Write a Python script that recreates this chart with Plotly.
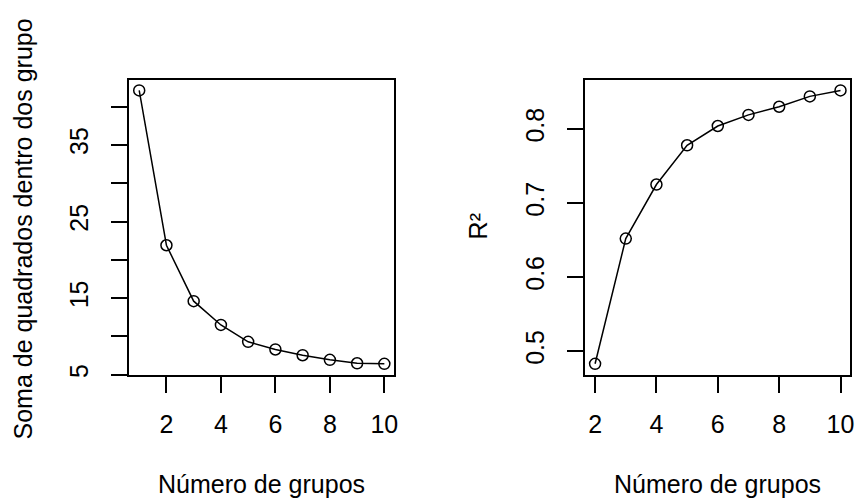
import plotly.graph_objects as go

# Data
k_left = [1, 2, 3, 4, 5, 6, 7, 8, 9, 10]
wss = [42.1, 21.9, 14.6, 11.5, 9.3, 8.3, 7.55, 6.95, 6.5, 6.43]

k_right = [2, 3, 4, 5, 6, 7, 8, 9, 10]
r2 = [0.483, 0.652, 0.725, 0.778, 0.804, 0.819, 0.830, 0.844, 0.852]

left_yticks = [5, 10, 15, 20, 25, 30, 35, 40]
left_yticktext = ["5", "", "15", "", "25", "", "35", ""]
right_yticks = [0.5, 0.6, 0.7, 0.8]
right_yticktext = ["0.5", "0.6", "0.7", "0.8"]
xticks = [2, 4, 6, 8, 10]

x_title = "Número de grupos"
y_title_left = "Soma de quadrados dentro dos grupo"
y_title_right = "R²"

FONT = "Liberation Sans, Arial, sans-serif"
FS = 25
W, H = 860, 500

def rng(vals):
    lo, hi = min(vals), max(vals)
    d = (hi - lo) * 0.04
    return [lo - d, hi + d]

fig = go.Figure()

line_style = dict(color="black", width=1.5)
marker_style = dict(symbol="circle-open", size=11, color="black", line=dict(width=1.5, color="black"))

fig.add_trace(go.Scatter(x=k_left, y=wss, mode="lines+markers", line=line_style,
                         marker=marker_style, xaxis="x", yaxis="y", showlegend=False))
fig.add_trace(go.Scatter(x=k_right, y=r2, mode="lines+markers", line=line_style,
                         marker=marker_style, xaxis="x2", yaxis="y2", showlegend=False))

ydom = [1 - 377 / H, 1 - 80 / H]

axis_common = dict(showline=True, linecolor="black", linewidth=1.5, mirror=True,
                   ticks="outside", ticklen=17, tickwidth=1.5, tickcolor="black",
                   showgrid=False, zeroline=False,
                   tickfont=dict(family=FONT, size=FS, color="black"))

fig.update_layout(
    width=W, height=H,
    margin=dict(l=0, r=0, t=0, b=0),
    paper_bgcolor="white", plot_bgcolor="white",
    font=dict(family=FONT, size=FS, color="black"),
    xaxis=dict(domain=[130 / W, 396 / W], range=rng(k_left), tickvals=xticks,
               anchor="y", ticklabelstandoff=10, **axis_common),
    yaxis=dict(domain=ydom, range=rng(wss), tickvals=left_yticks, ticktext=left_yticktext,
               tickangle=-90, anchor="x", ticklabelstandoff=13, **axis_common),
    xaxis2=dict(domain=[588 / W, 854.3 / W], range=rng(k_right), tickvals=xticks,
                anchor="y2", ticklabelstandoff=10, **axis_common),
    yaxis2=dict(domain=ydom, range=rng(r2), tickvals=right_yticks, ticktext=right_yticktext,
                tickangle=-90, anchor="x2", ticklabelstandoff=13, **axis_common),
    annotations=[
        dict(text=x_title, xref="paper", yref="paper", x=263 / W, y=1 - 487 / H,
             showarrow=False, xanchor="center", yanchor="middle",
             font=dict(family=FONT, size=FS, color="black")),
        dict(text=x_title, xref="paper", yref="paper", x=721 / W, y=1 - 487 / H,
             showarrow=False, xanchor="center", yanchor="middle",
             font=dict(family=FONT, size=FS, color="black")),
        dict(text=y_title_left, xref="paper", yref="paper", x=23 / W, y=1 - 230 / H,
             showarrow=False, xanchor="center", yanchor="middle", textangle=-90,
             font=dict(family=FONT, size=FS, color="black")),
        dict(text=y_title_right, xref="paper", yref="paper", x=480 / W, y=1 - 228 / H,
             showarrow=False, xanchor="center", yanchor="middle", textangle=-90,
             font=dict(family=FONT, size=FS, color="black")),
    ],
)

fig.write_html("out.html")
